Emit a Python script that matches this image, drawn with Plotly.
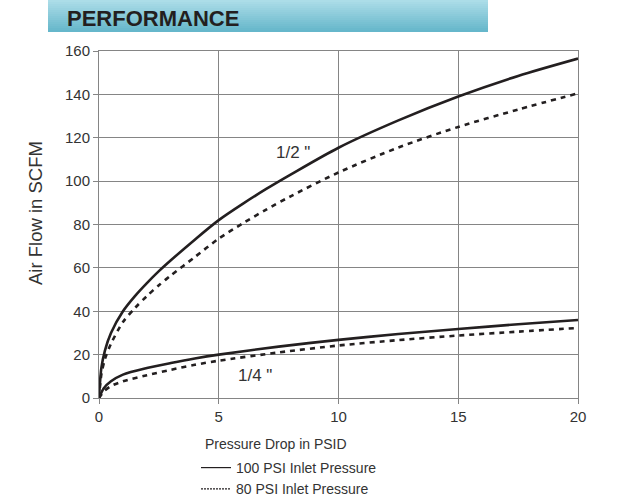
import plotly.graph_objects as go

# Pressure drop (PSID) sample points
x_half = [0, 0.1, 0.25, 0.5, 1, 1.5, 2, 2.5, 3, 4, 5, 6, 7, 8, 10, 12.5, 15, 17.5, 20]
# 1/2" valve, 100 PSI and 80 PSI inlet
half_100 = [0, 14, 22, 30, 40, 47, 53, 58.5, 63.5, 73, 82, 89.5, 96.5, 103, 115.4, 128, 139, 148.5, 156.5]
half_80 = [0, 11, 18, 25, 35, 41.5, 47, 52, 56.5, 65, 73.5, 80.5, 87, 93, 104, 115.5, 125, 133, 140.5]

x_quarter = [0, 0.2, 0.5, 1, 2, 3, 4, 5, 7.5, 10, 12.5, 15, 17.5, 20]
# 1/4" valve, 100 PSI and 80 PSI inlet
quarter_100 = [0, 4.5, 7.7, 10.8, 13.8, 16.1, 18.2, 20, 23.7, 26.8, 29.5, 31.8, 34, 36]
quarter_80 = [0, 3, 5.5, 7.7, 10.5, 13, 15.3, 17.2, 21, 24.2, 26.7, 28.8, 30.6, 32.3]

legend_names = ["100 PSI Inlet Pressure", "80 PSI Inlet Pressure"]
size_labels = ['1/2 "', '1/4 "']

ink = "#231f20"
grid = "#858585"
txt = "#333333"
font = "Liberation Sans, Arial, sans-serif"

# plot area in pixels (for placing the decorations around it)
L, R, T, B = 99, 578, 51, 398
W, H = R - L, B - T


def px_x(p):
    return (p - L) / W


def px_y(p):
    return (B - p) / H


fig = go.Figure()

curve_solid = dict(color=ink, width=2.6, shape="spline", smoothing=0.8)
curve_dash = dict(color=ink, width=2.6, shape="spline", smoothing=0.8, dash="5px,5px")

fig.add_trace(go.Scatter(x=x_half, y=half_100, mode="lines", line=curve_solid, showlegend=False))
fig.add_trace(go.Scatter(x=x_half, y=half_80, mode="lines", line=curve_dash, showlegend=False))
fig.add_trace(go.Scatter(x=x_quarter, y=quarter_100, mode="lines", line=curve_solid, showlegend=False))
fig.add_trace(go.Scatter(x=x_quarter, y=quarter_80, mode="lines", line=curve_dash, showlegend=False))

# legend-only entries (thin samples like the printed key)
fig.add_trace(go.Scatter(x=[None], y=[None], mode="lines", name=legend_names[0],
                         line=dict(color=ink, width=1.2)))
fig.add_trace(go.Scatter(x=[None], y=[None], mode="lines", name=legend_names[1],
                         line=dict(color=ink, width=1.2, dash="2px,1px")))

fig.add_annotation(x=8.1, y=113, text=size_labels[0], showarrow=False,
                   font=dict(size=17, color=txt, family=font))
fig.add_annotation(x=6.5, y=10.6, text=size_labels[1], showarrow=False,
                   font=dict(size=17, color=txt, family=font))

# header banner with vertical gradient
top_col = (172, 221, 232)
bot_col = (102, 183, 203)
steps = 16
for k in range(steps):
    t = k / (steps - 1)
    c = tuple(int(top_col[j] + (bot_col[j] - top_col[j]) * t) for j in range(3))
    fig.add_shape(type="rect", xref="paper", yref="paper",
                  x0=px_x(48), x1=px_x(488),
                  y0=px_y(32 * (k + 1) / steps), y1=px_y(32 * k / steps),
                  fillcolor="rgb(%d,%d,%d)" % c, line=dict(width=0), layer="below")

fig.add_annotation(xref="paper", yref="paper", x=px_x(65), y=px_y(18),
                   xanchor="left", yanchor="middle", text="<b>PERFORMANCE</b>", showarrow=False,
                   font=dict(size=22, color=ink, family="Liberation Sans Narrow, Arial Narrow, Liberation Sans, sans-serif"))

# y axis caption (sits a little above the centre of the plot in the original)
fig.add_annotation(xref="paper", yref="paper", x=px_x(35), y=px_y(213), textangle=-90,
                   xanchor="center", yanchor="middle", text="Air Flow in SCFM", showarrow=False,
                   font=dict(size=18.5, color=txt, family=font))

# x axis caption sits above the key, left aligned with it
fig.add_annotation(xref="paper", yref="paper", x=px_x(203), y=px_y(444),
                   xanchor="left", yanchor="middle", text="Pressure Drop in PSID", showarrow=False,
                   font=dict(size=14, color=txt, family=font))

axis_common = dict(showgrid=True, gridcolor=grid, gridwidth=1, showline=True, linecolor=grid,
                   linewidth=1, mirror=True, ticks="outside", ticklen=5, tickcolor=grid,
                   zeroline=False, tickfont=dict(size=15, color=txt, family=font))

fig.update_layout(
    width=624, height=501,
    margin=dict(l=L, r=624 - R, t=T, b=501 - B, autoexpand=False),
    paper_bgcolor="white", plot_bgcolor="white",
    xaxis=dict(axis_common, range=[0, 20], dtick=5),
    yaxis=dict(axis_common, range=[0, 160], dtick=20),
    showlegend=True,
    legend=dict(x=px_x(196), y=px_y(452), xanchor="left", yanchor="top",
                bgcolor="rgba(0,0,0,0)", font=dict(size=14, color=txt, family=font),
                itemwidth=30, tracegroupgap=0),
)

# drop the page's default body margin so the figure sits at the window corner
fig.write_html("out.html", config={"displayModeBar": False},
               post_script="document.body.style.margin='0';")
